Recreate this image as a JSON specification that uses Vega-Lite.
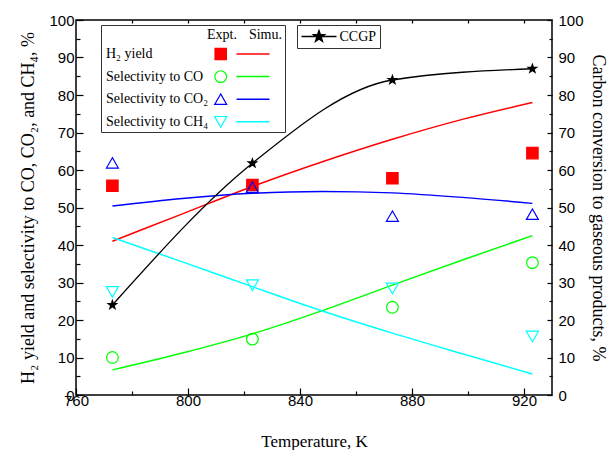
{
  "$schema": "https://vega.github.io/schema/vega-lite/v6.json",
  "width": 476,
  "height": 375,
  "autosize": "none",
  "padding": {"left": 76, "top": 20, "right": 58, "bottom": 55},
  "background": "white",
  "datasets": {
    "sim": [
      {"T": 773, "v": 41.0, "s": "H₂ yield"},
      {"T": 798, "v": 48.3, "s": "H₂ yield"},
      {"T": 823, "v": 55.6, "s": "H₂ yield"},
      {"T": 848, "v": 62.2, "s": "H₂ yield"},
      {"T": 873, "v": 68.2, "s": "H₂ yield"},
      {"T": 898, "v": 73.5, "s": "H₂ yield"},
      {"T": 923, "v": 78.0, "s": "H₂ yield"},
      {"T": 773, "v": 6.7, "s": "Selectivity to CO"},
      {"T": 798, "v": 11.2, "s": "Selectivity to CO"},
      {"T": 823, "v": 16.3, "s": "Selectivity to CO"},
      {"T": 848, "v": 22.5, "s": "Selectivity to CO"},
      {"T": 873, "v": 29.3, "s": "Selectivity to CO"},
      {"T": 898, "v": 36.0, "s": "Selectivity to CO"},
      {"T": 923, "v": 42.5, "s": "Selectivity to CO"},
      {"T": 773, "v": 50.4, "s": "Selectivity to CO₂"},
      {"T": 798, "v": 52.4, "s": "Selectivity to CO₂"},
      {"T": 823, "v": 53.8, "s": "Selectivity to CO₂"},
      {"T": 848, "v": 54.3, "s": "Selectivity to CO₂"},
      {"T": 873, "v": 53.9, "s": "Selectivity to CO₂"},
      {"T": 898, "v": 52.7, "s": "Selectivity to CO₂"},
      {"T": 923, "v": 51.1, "s": "Selectivity to CO₂"},
      {"T": 773, "v": 42.0, "s": "Selectivity to CH₄"},
      {"T": 798, "v": 35.5, "s": "Selectivity to CH₄"},
      {"T": 823, "v": 28.9, "s": "Selectivity to CH₄"},
      {"T": 848, "v": 22.4, "s": "Selectivity to CH₄"},
      {"T": 873, "v": 16.5, "s": "Selectivity to CH₄"},
      {"T": 898, "v": 11.0, "s": "Selectivity to CH₄"},
      {"T": 923, "v": 5.6, "s": "Selectivity to CH₄"}
    ],
    "expt": [
      {"T": 773, "v": 55.8, "s": "H₂ yield"},
      {"T": 823, "v": 56.0, "s": "H₂ yield"},
      {"T": 873, "v": 57.8, "s": "H₂ yield"},
      {"T": 923, "v": 64.5, "s": "H₂ yield"},
      {"T": 773, "v": 10.0, "s": "Selectivity to CO"},
      {"T": 823, "v": 14.9, "s": "Selectivity to CO"},
      {"T": 873, "v": 23.4, "s": "Selectivity to CO"},
      {"T": 923, "v": 35.3, "s": "Selectivity to CO"},
      {"T": 773, "v": 61.9, "s": "Selectivity to CO₂"},
      {"T": 823, "v": 55.4, "s": "Selectivity to CO₂"},
      {"T": 873, "v": 47.7, "s": "Selectivity to CO₂"},
      {"T": 923, "v": 48.2, "s": "Selectivity to CO₂"},
      {"T": 773, "v": 27.5, "s": "Selectivity to CH₄"},
      {"T": 823, "v": 29.3, "s": "Selectivity to CH₄"},
      {"T": 873, "v": 28.4, "s": "Selectivity to CH₄"},
      {"T": 923, "v": 15.6, "s": "Selectivity to CH₄"}
    ],
    "ccgp": [
      {"T": 773, "v": 24.0, "g": "CCGP"},
      {"T": 823, "v": 61.8, "g": "CCGP"},
      {"T": 873, "v": 84.0, "g": "CCGP"},
      {"T": 923, "v": 87.0, "g": "CCGP"}
    ]
  },
  "config": {
    "view": {"stroke": "black", "strokeWidth": 1.5},
    "axis": {
      "domain": false, "grid": false, "tickColor": "black", "tickWidth": 1.2,
      "labelColor": "black", "labelFont": "Liberation Sans", "labelFontSize": 15,
      "labelFlush": false, "labelOverlap": false,
      "titleFont": "Liberation Serif", "titleFontSize": 18, "titleFontWeight": "normal", "titleColor": "black"
    },
    "legend": {
      "labelFont": "Liberation Serif", "labelFontSize": 14, "labelColor": "black",
      "titleFont": "Liberation Serif", "titleFontSize": 14, "titleFontWeight": "normal", "titleColor": "black"
    }
  },
  "layer": [
    {
      "data": {"name": "sim"},
      "mark": {"type": "line", "strokeWidth": 1.5, "interpolate": "monotone"},
      "encoding": {
        "x": {
          "field": "T", "type": "quantitative",
          "scale": {"domain": [760, 930], "nice": false, "zero": false},
          "axis": {"orient": "bottom", "values": [760, 800, 840, 880, 920], "tickSize": -7, "labelPadding": 5,
                   "title": "Temperature, K", "titleFontSize": 17, "titlePadding": 25.5}
        },
        "y": {
          "field": "v", "type": "quantitative",
          "scale": {"domain": [0, 100], "nice": false, "zero": false},
          "axis": {"orient": "left", "values": [0, 10, 20, 30, 40, 50, 60, 70, 80, 90, 100], "tickSize": -7, "labelPadding": 9,
                   "title": "H₂ yield and selectivity to CO, CO₂, and CH₄, %", "titlePadding": 11}
        },
        "stroke": {
          "field": "s", "type": "nominal",
          "scale": {"domain": ["H₂ yield", "Selectivity to CO", "Selectivity to CO₂", "Selectivity to CH₄"],
                    "range": ["#ff0000", "#00ff00", "#0000ff", "#00ffff"]},
          "legend": {
            "orient": "none", "legendX": 25, "legendY": 5, "title": "Simu.", "titleAnchor": "end", "titleAlign": "right",
            "titlePadding": 5, "padding": 3, "strokeColor": "#333333",
            "symbolType": "M-3,0L3,0M4.7,0", "symbolSize": 121, "symbolStrokeWidth": 1.5, "symbolOffset": 142,
            "labelOffset": -154, "rowPadding": 8.6
          }
        }
      }
    },
    {
      "data": {"name": "expt"},
      "mark": {"type": "point", "strokeWidth": 1.2, "opacity": 1},
      "encoding": {
        "x": {
          "field": "T", "type": "quantitative",
          "scale": {"domain": [760, 930], "nice": false, "zero": false},
          "axis": {"orient": "bottom", "values": [780, 820, 860, 900], "tickSize": -4, "labels": false, "title": null}
        },
        "y": {
          "field": "v", "type": "quantitative",
          "scale": {"domain": [0, 100], "nice": false, "zero": false},
          "axis": {"orient": "left", "values": [5, 15, 25, 35, 45, 55, 65, 75, 85, 95], "tickSize": -4, "labels": false, "title": null}
        },
        "shape": {
          "field": "s", "type": "nominal",
          "scale": {"domain": ["H₂ yield", "Selectivity to CO", "Selectivity to CO₂", "Selectivity to CH₄"],
                    "range": ["square", "circle", "triangle-up", "triangle-down"]},
          "legend": {
            "orient": "none", "legendX": 128, "legendY": 5, "title": "Expt.", "titleAnchor": "start",
            "titlePadding": 1, "padding": 3, "labelExpr": "''", "symbolStrokeWidth": 1.2, "symbolOffset": 6.7,
            "clipHeight": 22, "rowPadding": 0.6
          }
        },
        "stroke": {
          "field": "s", "type": "nominal",
          "scale": {"domain": ["H₂ yield", "Selectivity to CO", "Selectivity to CO₂", "Selectivity to CH₄"],
                    "range": ["#ff0000", "#00ff00", "#0000ff", "#00ffff"]},
          "legend": {
            "orient": "none", "legendX": 128, "legendY": 5, "title": "Expt.", "titleAnchor": "start",
            "titlePadding": 1, "padding": 3, "labelExpr": "''", "symbolStrokeWidth": 1.2, "symbolOffset": 6.7,
            "clipHeight": 22, "rowPadding": 0.6
          }
        },
        "fill": {
          "field": "s", "type": "nominal",
          "scale": {"domain": ["H₂ yield", "Selectivity to CO", "Selectivity to CO₂", "Selectivity to CH₄"],
                    "range": ["#ff0000", "transparent", "transparent", "transparent"]},
          "legend": {
            "orient": "none", "legendX": 128, "legendY": 5, "title": "Expt.", "titleAnchor": "start",
            "titlePadding": 1, "padding": 3, "labelExpr": "''", "symbolStrokeWidth": 1.2, "symbolOffset": 6.7,
            "clipHeight": 22, "rowPadding": 0.6
          }
        },
        "size": {
          "field": "s", "type": "nominal",
          "scale": {"domain": ["H₂ yield", "Selectivity to CO", "Selectivity to CO₂", "Selectivity to CH₄"],
                    "range": [130, 150, 196, 196]},
          "legend": {
            "orient": "none", "legendX": 128, "legendY": 5, "title": "Expt.", "titleAnchor": "start",
            "titlePadding": 1, "padding": 3, "labelExpr": "''", "symbolStrokeWidth": 1.2, "symbolOffset": 6.7,
            "clipHeight": 22, "rowPadding": 0.6
          }
        }
      }
    },
    {
      "data": {"name": "ccgp"},
      "mark": {"type": "line", "strokeWidth": 1.3, "interpolate": "monotone", "color": "black"},
      "encoding": {
        "x": {
          "field": "T", "type": "quantitative",
          "scale": {"domain": [760, 930], "nice": false, "zero": false},
          "axis": {"orient": "top", "values": [780, 800, 820, 840, 860, 880, 900, 920], "tickSize": -3, "labels": false, "title": null}
        },
        "y": {
          "field": "v", "type": "quantitative",
          "scale": {"domain": [0, 100], "nice": false, "zero": false},
          "axis": {"orient": "right", "values": [0, 10, 20, 30, 40, 50, 60, 70, 80, 90, 100], "tickSize": -5, "labelPadding": 11,
                   "title": "Carbon conversion to gaseous products, %", "titlePadding": 5}
        }
      }
    },
    {
      "data": {"name": "ccgp"},
      "mark": {"type": "point", "filled": true, "size": 160, "opacity": 1,
               "shape": "M0,-1L0.235,-0.324L0.951,-0.309L0.38,0.124L0.588,0.809L0,0.4L-0.588,0.809L-0.38,0.124L-0.951,-0.309L-0.235,-0.324Z"},
      "encoding": {
        "x": {
          "field": "T", "type": "quantitative",
          "scale": {"domain": [760, 930], "nice": false, "zero": false},
          "axis": null
        },
        "y": {
          "field": "v", "type": "quantitative",
          "scale": {"domain": [0, 100], "nice": false, "zero": false},
          "axis": {"orient": "right", "values": [5, 15, 25, 35, 45, 55, 65, 75, 85, 95], "tickSize": -3, "labels": false, "title": null}
        },
        "fill": {
          "field": "g", "type": "nominal",
          "scale": {"domain": ["CCGP"], "range": ["black"]},
          "legend": {
            "orient": "none", "legendX": 221, "legendY": 5, "title": null, "padding": 3.5, "strokeColor": "#333333",
            "symbolType": "M-1,0L1,0M0,-0.34L0.08,-0.11L0.323,-0.105L0.129,0.042L0.2,0.275L0,0.136L-0.2,0.275L-0.129,0.042L-0.323,-0.105L-0.08,-0.11Z",
            "symbolSize": 1225, "symbolStrokeColor": "black", "symbolStrokeWidth": 1.3,
            "labelOffset": 2, "clipHeight": 16
          }
        }
      }
    }
  ],
  "resolve": {
    "scale": {"x": "independent", "y": "independent", "stroke": "independent", "fill": "independent", "shape": "independent", "size": "independent"},
    "axis": {"x": "independent", "y": "independent"},
    "legend": {"stroke": "independent", "fill": "independent", "shape": "independent", "size": "independent"}
  }
}
